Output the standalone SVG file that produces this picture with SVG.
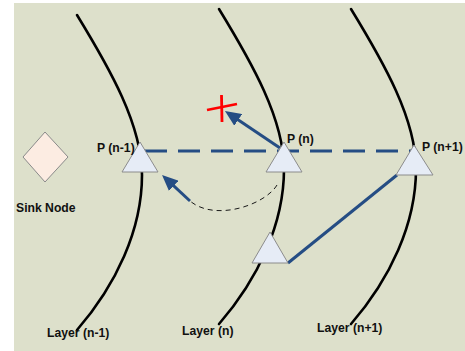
<svg xmlns="http://www.w3.org/2000/svg" xmlns:xlink="http://www.w3.org/1999/xlink" width="465" height="351" viewBox="0 0 465 351">
  <style>
    .layer { fill: none; stroke: #000; stroke-width: 2.6; stroke-linecap: round; }
    .node { fill: #e6ecf6; stroke: #8c8c8c; stroke-width: 1; }
    .sink { fill: #fcece2; stroke: #8a8a8a; stroke-width: 1; }
    .label { font-family: "Liberation Sans", Arial, sans-serif; font-size: 12.2px; font-weight: bold; fill: #111; }
    .link { fill: none; stroke: #254d84; stroke-width: 3; }
    .dash { stroke-dasharray: 22 11; }
    .route { fill: none; stroke: #1a1a1a; stroke-width: 1; stroke-dasharray: 5 4; }
    .fail { stroke: #ff0000; stroke-width: 2.8; stroke-linecap: butt; }
  </style>
  <defs>
    <!-- one layer boundary, drawn three times -->
    <path id="arc" d="M77,15 C110,69 142,125 142,175 C142,230 116,285 77,330"/>
    <marker id="head" markerUnits="userSpaceOnUse" markerWidth="16" markerHeight="14" refX="11" refY="7" orient="auto">
      <path d="M0,0 L16,7 L0,14 z" fill="#254d84"/>
    </marker>
  </defs>

  <rect x="14" y="3" width="451" height="348" fill="#dde0cb"/>

  <!-- layer boundaries -->
  <g id="layers">
    <use xlink:href="#arc" href="#arc" class="layer"/>
    <use xlink:href="#arc" href="#arc" class="layer" transform="translate(142,-6)"/>
    <use xlink:href="#arc" href="#arc" class="layer" transform="translate(274,-6)"/>
  </g>

  <!-- connectors -->
  <g id="connectors">
    <line class="link dash" x1="145" y1="151" x2="414" y2="151"/>
    <line class="link" x1="288" y1="263" x2="397" y2="175"/>
    <line class="link" x1="280" y1="148" x2="229.1" y2="113.8" marker-end="url(#head)"/>
    <path class="route" d="M277,185 C265,205 215,222 190,201"/>
    <line class="link" x1="190" y1="201" x2="165.7" y2="178.4" marker-end="url(#head)"/>
  </g>

  <!-- failed forwarding target -->
  <g id="fail-mark">
    <line class="fail" x1="207" y1="110" x2="237" y2="104"/>
    <line class="fail" x1="221.5" y1="95" x2="222" y2="122"/>
  </g>

  <g id="sink-node">
    <polygon class="sink" points="45,132 68,157 45,182 23,157"/>
    <text class="label" x="16" y="212">Sink Node</text>
  </g>

  <g id="p-n-minus-1">
    <polygon class="node" points="140,142 158,172 122,172"/>
    <text class="label" x="97" y="152">P (n-1)</text>
  </g>

  <g id="p-n">
    <polygon class="node" points="284,142 302,172 266,172"/>
    <text class="label" x="287" y="143">P (n)</text>
  </g>

  <g id="p-n-plus-1">
    <polygon class="node" points="414,145 433,175 396,175"/>
    <text class="label" x="422" y="151">P (n+1)</text>
  </g>

  <g id="p-n-lower">
    <polygon class="node" points="270,232 288,263 252,263"/>
  </g>

  <g id="layer-labels">
    <text class="label" x="47" y="336.5">Layer (n-1)</text>
    <text class="label" x="182" y="335">Layer (n)</text>
    <text class="label" x="317" y="331.5">Layer (n+1)</text>
  </g>
</svg>
